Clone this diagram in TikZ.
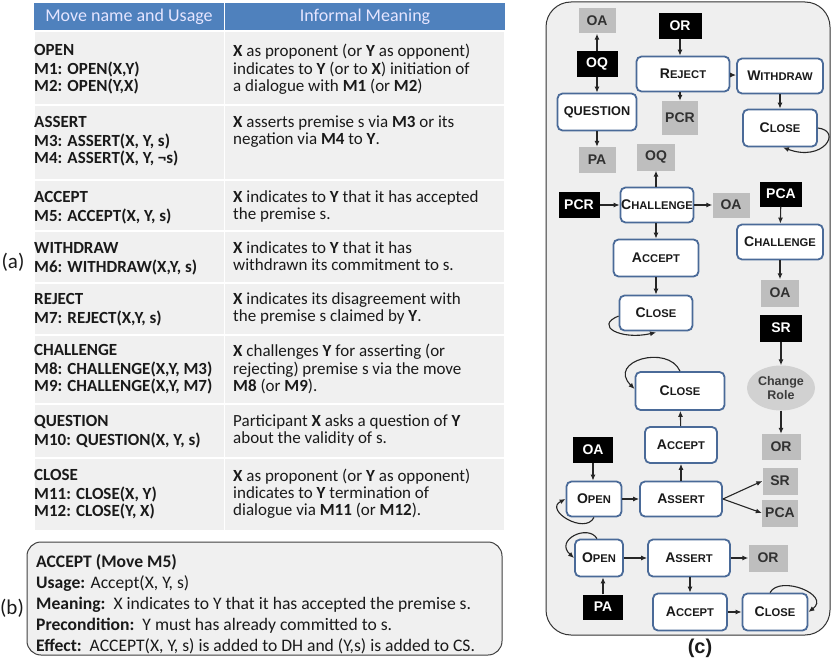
\documentclass[tikz,border=0pt]{standalone}
\usepackage{fontspec}
\setmainfont{Carlito}
\newfontfamily\dfont{Liberation Sans}
\usetikzlibrary{arrows.meta,shapes.geometric,calc}
\definecolor{hdrblue}{HTML}{4F81BD}
\definecolor{cellgray}{HTML}{F0F0F0}
\definecolor{nodeblue}{HTML}{4A6A98}
\definecolor{boxgray}{HTML}{BEBEBE}
\definecolor{framefill}{HTML}{EFEFEF}
\definecolor{txt}{HTML}{1A1A1A}
\newcommand\SCx[2]{{\fontsize{14}{14}\selectfont #1}{\fontsize{11.2}{14}\selectfont #2}}
\begin{document}
\begin{tikzpicture}[x=1pt,y=-1pt,
  tl/.style={anchor=north west, inner sep=0pt, align=left, font=\fontsize{17}{17}\selectfont, text=txt},
  hdr/.style={inner sep=0pt, font=\fontsize{18}{18}\selectfont, text=white!90!blue},
  cell/.style={fill=cellgray, draw=white, line width=1.5pt},
  lbl/.style={inner sep=0pt, font=\fontsize{21}{21}\selectfont, text=txt},
  rnode/.style={draw=nodeblue, line width=1.8pt, fill=white, rounded corners=5pt, inner sep=0pt, minimum height=36pt, font=\dfont\bfseries, text=txt},
  gbox/.style={fill=boxgray, inner sep=0pt, minimum width=38pt, minimum height=26pt, font=\dfont\bfseries\fontsize{14}{14}\selectfont, text=txt!90},
  bbox/.style={fill=black, inner sep=0pt, minimum width=41pt, minimum height=26pt, font=\dfont\bfseries\fontsize{14}{14}\selectfont, text=white},
  arr/.style={-{Latex[length=6pt,width=5pt]}, line width=1.1pt, draw=black!85}
]
\useasboundingbox (0,0) rectangle (831,661);
% ---------------- table (a)
\fill[hdrblue] (34,3) rectangle (505,31);
\draw[white, line width=1pt] (224.5,3) -- (224.5,31);
\node[hdr] (h1) at (129,17) {Move name and Usage};
\node[hdr] (h2) at (365,17) {Informal Meaning};
\foreach \t/\b in {31/105,105/180,180/231,231/283,283/335,335/404,404/458,458/531}{
  \draw[cell] (34,\t) rectangle (224.5,\b);
  \draw[cell] (224.5,\t) rectangle (505,\b);
}
\node[tl] (c11) at (34,43.6) {\strut\textbf{OPEN}\\\textbf{M1: OPEN(X,Y)}\\\textbf{M2: OPEN(Y,X)}};
\node[tl] (c12) at (233,43.6) {\strut\textbf{X} as proponent (or \textbf{Y} as opponent)\\indicates to \textbf{Y} (or to \textbf{X}) initiation of\\a dialogue with \textbf{M1} (or \textbf{M2})};
\node[tl] (c21) at (34,115.6) {\strut\textbf{ASSERT}\\\textbf{M3: ASSERT(X, Y, s)}\\\textbf{M4: ASSERT(X, Y, ¬s)}};
\node[tl] (c22) at (233,115.6) {\strut\textbf{X} asserts premise s via \textbf{M3} or its\\negation via \textbf{M4} to \textbf{Y}.};
\node[tl] (c31) at (34,190.6) {\strut\textbf{ACCEPT}\\\textbf{M5: ACCEPT(X, Y, s)}};
\node[tl] (c32) at (233,190.6) {\strut\textbf{X} indicates to \textbf{Y} that it has accepted\\the premise s.};
\node[tl] (c41) at (34,241.6) {\strut\textbf{WITHDRAW}\\\textbf{M6: WITHDRAW(X,Y, s)}};
\node[tl] (c42) at (233,241.6) {\strut\textbf{X} indicates to \textbf{Y} that it has\\withdrawn its commitment to s.};
\node[tl] (c51) at (34,292.6) {\strut\textbf{REJECT}\\\textbf{M7: REJECT(X,Y, s)}};
\node[tl] (c52) at (233,292.6) {\strut\textbf{X} indicates its disagreement with\\the premise s claimed by \textbf{Y}.};
\node[tl] (c61) at (34,343.6) {\strut\textbf{CHALLENGE}\\\textbf{M8: CHALLENGE(X,Y, M3)}\\\textbf{M9: CHALLENGE(X,Y, M7)}};
\node[tl] (c62) at (233,343.6) {\strut\textbf{X} challenges \textbf{Y} for asserting (or\\rejecting) premise s via the move\\\textbf{M8} (or \textbf{M9}).};
\node[tl] (c71) at (34,414.6) {\strut\textbf{QUESTION}\\\textbf{M10: QUESTION(X, Y, s)}};
\node[tl] (c72) at (233,414.6) {\strut Participant \textbf{X} asks a question of \textbf{Y}\\about the validity of s.};
\node[tl] (c81) at (34,468.6) {\strut\textbf{CLOSE}\\\textbf{M11: CLOSE(X, Y)}\\\textbf{M12: CLOSE(Y, X)}};
\node[tl] (c82) at (233,468.6) {\strut\textbf{X} as proponent (or \textbf{Y} as opponent)\\indicates to \textbf{Y} termination of\\dialogue via \textbf{M11} (or \textbf{M12}).};
\node[lbl] (la) at (13,262) {(a)};
% ---------------- box (b)
\draw[rounded corners=14pt, fill=cellgray, draw=black!75, line width=1pt] (27,542) rectangle (502,655);
\node[tl, font=\fontsize{17.6}{21}\selectfont] (bt) at (36,553) {\strut\textbf{ACCEPT (Move M5)}\\\textbf{Usage:} Accept(X, Y, s)\\\textbf{Meaning:}\ \ X indicates to Y that it has accepted the premise s.\\\textbf{Precondition:}\ \ Y must has already committed to s.\\\textbf{Effect:}\ \ ACCEPT(X, Y, s) is added to DH and (Y,s) is added to CS.};
\node[lbl] (lb) at (12,608) {(b)};
% ---------------- diagram (c)
\draw[rounded corners=25pt, fill=framefill, draw=black!80, line width=1pt] (546,2) rectangle (830,635);
\node[inner sep=0pt, font=\dfont\bfseries\fontsize{20}{20}\selectfont, text=txt] (lc) at (700,648) {(c)};
% nodes
\node[gbox, minimum width=37pt, minimum height=25pt] (oa1) at (597,21) {OA};
\node[bbox] (oq1) at (597,64) {OQ};
\node[rnode, minimum width=79pt, minimum height=37pt, font=\dfont\bfseries\fontsize{12.7}{13}\selectfont] (question) at (597,112) {QUESTION};
\node[gbox, minimum width=37pt] (pa1) at (597,160) {PA};
\node[bbox, minimum width=43pt] (or1) at (680,26) {OR};
\node[rnode, minimum width=93pt, minimum height=35pt] (reject) at (683,74) {\SCx{R}{EJECT}};
\node[gbox, minimum width=36pt, minimum height=34pt] (pcr1) at (680,118) {PCR};
\node[rnode, minimum width=86pt, minimum height=35pt] (withdraw) at (780,76) {\SCx{W}{ITHDRAW}};
\node[rnode, minimum width=74pt, minimum height=37pt] (close1) at (780,128) {\SCx{C}{LOSE}};
\node[gbox, minimum height=27pt] (oq2) at (656,157) {OQ};
\node[bbox] (pcr2) at (579,205) {PCR};
\node[rnode, minimum width=73pt, minimum height=35pt] (chal1) at (657,205) {\SCx{C}{HALLENGE}};
\node[gbox, minimum width=37pt, minimum height=25pt] (oa2) at (731,205) {OA};
\node[bbox, minimum width=42pt, minimum height=25pt] (pca1) at (781,194) {PCA};
\node[rnode, minimum width=86pt, minimum height=35pt] (chal2) at (780,242) {\SCx{C}{HALLENGE}};
\node[gbox, minimum height=27pt] (oa3) at (780,293) {OA};
\node[bbox, minimum width=42pt, minimum height=27pt] (sr1) at (781,328) {SR};
\node[rnode, minimum width=85pt, minimum height=37pt] (accept1) at (656,258) {\SCx{A}{CCEPT}};
\node[rnode, minimum width=73pt, minimum height=35pt] (close2) at (656,313) {\SCx{C}{LOSE}};
\node[ellipse, fill=boxgray!70, inner sep=0pt, minimum width=68pt, minimum height=45pt, align=center, font=\dfont\bfseries\fontsize{12.5}{14}\selectfont, text=txt!85] (change) at (781,388) {Change\\Role};
\node[gbox, minimum width=39pt] (or2) at (781,447) {OR};
\node[rnode, minimum width=89pt, minimum height=38pt] (close3) at (680,391) {\SCx{C}{LOSE}};
\node[rnode, minimum width=72pt, minimum height=36pt] (accept2) at (681,445) {\SCx{A}{CCEPT}};
\node[bbox, minimum width=40pt] (oa4) at (593,450) {OA};
\node[rnode, minimum width=55pt, minimum height=35pt] (open1) at (594,499) {\SCx{O}{PEN}};
\node[rnode, minimum width=82pt, minimum height=35pt] (assert1) at (681,499) {\SCx{A}{SSERT}};
\node[gbox, minimum width=35pt, minimum height=27pt] (sr2) at (780,481) {SR};
\node[gbox, minimum width=36pt, minimum height=27pt] (pca2) at (780,513) {PCA};
\node[rnode, minimum width=48pt, minimum height=37pt] (open2) at (599,558) {\SCx{O}{PEN}};
\node[rnode, minimum width=82pt, minimum height=37pt] (assert2) at (689,558) {\SCx{A}{SSERT}};
\node[gbox, minimum width=39pt, minimum height=27pt] (or3) at (768,558) {OR};
\node[bbox, minimum width=40pt, minimum height=25pt] (pa2) at (603,607) {PA};
\node[rnode, minimum width=74pt, minimum height=37pt] (accept3) at (690,612) {\SCx{A}{CCEPT}};
\node[rnode, minimum width=65pt, minimum height=37pt] (close4) at (775,612) {\SCx{C}{LOSE}};
% edges
\draw[arr] (oq1) -- (oa1);
\draw[arr] (oq1) -- (question);
\draw[arr] (question) -- (pa1);
\draw[arr] (or1) -- (or1 |- reject.north);
\draw[arr] (reject) -- (withdraw);
\draw[arr] (pcr1.north |- reject.south) -- (pcr1);
\draw[arr] (withdraw) -- (close1);
\draw[arr] (close1.east) .. controls +(25,3) and +(40,15) .. ($(close1.south)+(3,0)$);
\draw[arr] (oq2.south |- chal1.north) -- (oq2);
\draw[arr] (pcr2) -- (chal1);
\draw[arr] (chal1) -- (oa2);
\draw[arr] (chal1.south -| accept1.north) -- (accept1);
\draw[arr] (accept1) -- (close2);
\draw[arr] ($(close2.west)+(0,3)$) .. controls +(-25,10) and +(-35,8) .. ($(close2.south)+(0,1)$);
\draw[arr] (pca1) -- (chal2);
\draw[arr] (chal2.south -| oa3.north) -- (oa3);
\draw[arr] (sr1) -- (change);
\draw[arr] (change) -- (or2);
\draw[arr] (oa4) -- (oa4 |- open1.north);
\draw[arr] (open1) -- (assert1);
\draw[arr] (assert1) -- (accept2);
\draw[arr] (accept2) -- (close3);
\draw[arr] (close3.north) .. controls +(-12,-27) and +(-28,-28) .. ($(close3.west)+(0,-2)$);
\draw[arr] (assert1.east) -- (sr2.west);
\draw[arr] (assert1.east) -- (pca2.west);
\draw[arr] (open1.south) .. controls +(-9,18) and +(-22,11) .. (open1.west);
\draw[arr] ($(open2.north)+(-2,0)$) .. controls +(-9,-15) and +(-20,-18) .. (open2.west);
\draw[arr] (open2) -- (assert2);
\draw[arr] (assert2) -- (or3);
\draw[arr] (pa2) -- (pa2 |- open2.south);
\draw[arr] (assert2.south -| accept3.north) -- (accept3);
\draw[arr] (accept3) -- (close4);
\draw[arr] ($(close4.north)+(-5,0)$) .. controls +(10,-18) and +(23,-17) .. (close4.east);
\end{tikzpicture}
\end{document}
